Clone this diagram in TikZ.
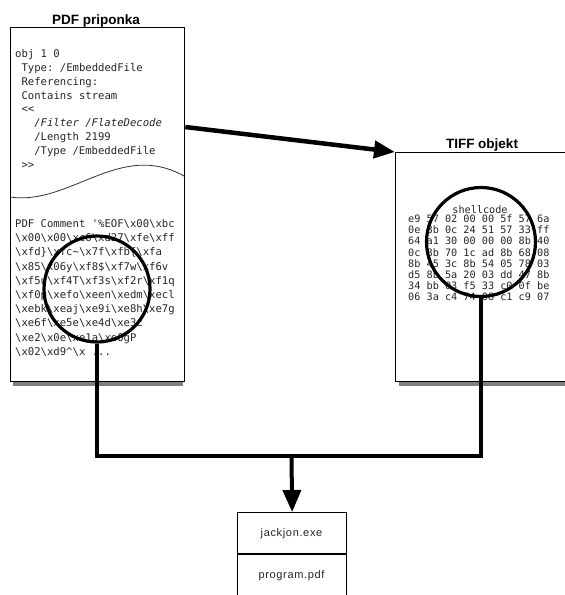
\documentclass[tikz,border=0pt]{standalone}
\usepackage{fontspec}
\setmainfont{Liberation Sans}
\setmonofont{DejaVu Sans Mono}
\newfontfamily\labelfont[LetterSpace=6]{Liberation Sans}
\usetikzlibrary{arrows.meta,calc}
\newcommand{\bsl}{\textbackslash}
\begin{document}
\begin{tikzpicture}[x=1pt,y=-1pt,
  box/.style={draw=black,line width=1.3pt,fill=white,inner sep=0pt,rectangle},
  shadowbar/.style={fill=black!50,draw=none},
  mono/.style={font=\ttfamily\fontsize{10.6}{12}\selectfont,anchor=base west,inner sep=0pt,text=black!85},
  hex/.style={font=\ttfamily\fontsize{10.2}{12}\selectfont,anchor=base west,inner sep=0pt,text=black!85},
  title/.style={font=\bfseries\fontsize{13.5}{15}\selectfont,anchor=base,inner sep=0pt},
  label/.style={font=\labelfont\fontsize{11}{12}\selectfont,anchor=center,inner sep=0pt,text=black!85},
  lens/.style={circle,draw=black,line width=3.2pt,inner sep=0pt,minimum size=106pt},
  wire/.style={line width=3.5pt,line join=miter},
  bigarrow/.style={line width=4.5pt,-{Triangle[length=21pt,width=17pt]}},
  downarrow/.style={line width=4pt,-{Triangle[length=22pt,width=18pt]}},
]
\useasboundingbox (0,0) rectangle (565,595);
\clip (0,0) rectangle (565,595);
\fill[white] (0,0) rectangle (565,595);

% shadows
\fill[shadowbar] (13,381) rectangle (183,385.5);
\fill[shadowbar] (399,381) rectangle (570,385.5);

% boxes
\node[box,minimum width=174pt,minimum height=354pt,anchor=north west] (pdf) at (10,27) {};
\node[box,minimum width=200pt,minimum height=229pt,anchor=north west] (tiff) at (395,152) {};
\node[box,minimum width=109pt,minimum height=100pt,anchor=north west] (out) at (237,512) {};
\draw[line width=1.2pt] ($(out.north west)+(0,42)$) -- ($(out.north east)+(0,42)$);

% tear line in the PDF box
\draw[line width=0.8pt,black!80] (10,197) .. controls (70,206) and (120,140) .. (184,176);

% titles
\node[title] (tpdf) at (96,24) {PDF priponka};
\node[title] (ttiff) at (482,148) {TIFF objekt};

% PDF object text
\node[mono] (p1) at (15,57.5) {obj 1 0};
\node[mono] (p2) at (21.4,71.35) {Type: /EmbeddedFile};
\node[mono] (p3) at (21.4,85.2) {Referencing:};
\node[mono] (p4) at (21.4,99.05) {Contains stream};
\node[mono] (p5) at (21.4,112.9) {<<};
\node[mono,font=\ttfamily\itshape\fontsize{10.6}{12}\selectfont] (p6) at (34.1,126.75) {/Filter /FlateDecode};
\node[mono] (p7) at (34.1,140.6) {/Length 2199};
\node[mono] (p8) at (34.1,154.45) {/Type /EmbeddedFile};
\node[mono] (p9) at (21.4,168.3) {>>};

% PDF comment text
\node[mono] (c1) at (15,227.5) {PDF Comment \textquotesingle\%EOF\bsl x00\bsl xbc};
\node[mono] (c2) at (15,241.7) {\bsl x00\bsl x00\bsl xc6\bsl xd27\bsl xfe\bsl xff};
\node[mono] (c3) at (15,255.9) {\bsl xfd\}\bsl xfc\textasciitilde\bsl x7f\bsl xfb\{\bsl xfa};
\node[mono] (c4) at (15,270.1) {\bsl x85\bsl x06y\bsl xf8\$\bsl xf7w\bsl xf6v};
\node[mono] (c5) at (15,284.3) {\bsl xf5u\bsl xf4T\bsl xf3s\bsl xf2r\bsl xf1q};
\node[mono] (c6) at (15,298.5) {\bsl xf0p\bsl xefo\bsl xeen\bsl xedm\bsl xecl};
\node[mono] (c7) at (15,312.7) {\bsl xebk\bsl xeaj\bsl xe9i\bsl xe8h\bsl xe7g};
\node[mono] (c8) at (15,326.9) {\bsl xe6f\bsl xe5e\bsl xe4d\bsl xe3c};
\node[mono] (c9) at (15,341.1) {\bsl xe2\bsl x0e\bsl xe1a\bsl xe0gP};
\node[mono] (c10) at (15,355.3) {\bsl x02\bsl xd9\textasciicircum\bsl x ...};

% TIFF shellcode text
\node[hex,anchor=base] (sc) at (480,213.5) {shellcode};
\node[hex] (h1) at (408,222.5) {e9 57 02 00 00 5f 57 6a};
\node[hex] (h2) at (408,233.7) {0e 8b 0c 24 51 57 33 ff};
\node[hex] (h3) at (408,244.9) {64 a1 30 00 00 00 8b 40};
\node[hex] (h4) at (408,256.1) {0c 8b 70 1c ad 8b 68 08};
\node[hex] (h5) at (408,267.3) {8b 45 3c 8b 54 05 78 03};
\node[hex] (h6) at (408,278.5) {d5 8b 5a 20 03 dd 47 8b};
\node[hex] (h7) at (408,289.7) {34 bb 03 f5 33 c0 0f be};
\node[hex] (h8) at (408,300.9) {06 3a c4 74 08 c1 c9 07};

% lenses
\node[lens] (lensA) at (97,289) {};
\node[lens,minimum size=109pt] (lensB) at (481,242) {};

% bottom box labels
\node[label] (f1) at (291.5,533.5) {jackjon.exe};
\node[label] (f2) at (291.5,576) {program.pdf};

% connectors
\draw[bigarrow] ($(pdf.north east)+(0,100)$) -- (tiff.north west);
\coordinate (join) at (291.5,456);
\draw[wire] (lensA.south) |- (join) -| (lensB.south);
\draw[downarrow] (join) -- (out.north);
\end{tikzpicture}
\end{document}
